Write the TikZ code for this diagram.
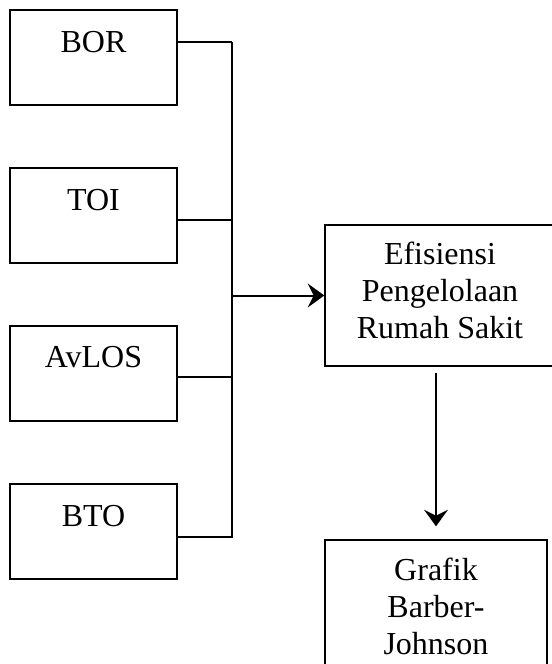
\documentclass[tikz,border=0pt]{standalone}
\usepackage{fontspec}
\setmainfont{Liberation Serif}
\usetikzlibrary{arrows.meta,calc}

\begin{document}
\begin{tikzpicture}[x=0.75pt,y=0.75pt,yscale=-1,xscale=1,
  box/.style={draw,line width=1pt,inner sep=0pt,minimum width=125.25pt,minimum height=71.25pt},
  link/.style={line width=1pt},
  arr/.style={line width=1.5pt,-{Stealth[length=12.5pt,width=18pt,inset=4.5pt]}},
  txt/.style={font=\fontsize{24}{27.75}\selectfont,align=center,anchor=base,inner sep=0pt}]
\useasboundingbox (0,0) rectangle (551,664);

%Shape: Rectangle [id:bor] 
\node [box] (bor) at (93.5,57.5) {};
%Shape: Rectangle [id:toi] 
\node [box] (toi) at (93.5,215.5) {};
%Shape: Rectangle [id:avlos] 
\node [box] (avlos) at (93.5,373.5) {};
%Shape: Rectangle [id:bto] 
\node [box] (bto) at (93.5,531.5) {};
%Shape: Rectangle [id:eff] 
\node [box,minimum width=172.5pt,minimum height=105.75pt] (eff) at (440,295.5) {};
%Shape: Rectangle [id:grafik] 
\node [box,minimum width=166.5pt,minimum height=127.5pt] (grafik) at (436,625) {};

%Straight Lines [id:bus] 
\coordinate (bustop) at (232,42);
\draw [link] ($(bor.east)+(0,-15.5)$) -- (bustop);
\draw [link] ($(toi.east)+(0,4.5)$) -| (bustop);
\draw [link] ($(avlos.east)+(0,3.5)$) -| (bustop);
\draw [link] ($(bto.east)+(0,5.5)$) -| (bustop);
%Straight Lines [id:in] 
\draw [arr] (bustop |- eff.west) -- (eff.west);
%Straight Lines [id:out] 
\draw [arr,shorten <=4.5pt,shorten >=9.75pt] (eff.south -| grafik.north) -- (grafik.north);

% Text Node
\node [txt] (bortxt) at (93.5,52) {BOR};
% Text Node
\node [txt] (toitxt) at (93.5,210) {TOI};
% Text Node
\node [txt] (avlostxt) at (93.5,367) {AvLOS};
% Text Node
\node [txt] (btotxt) at (93.5,526) {BTO};
% Text Node
\node [txt] (efftxt) at (440,338) {Efisiensi\\Pengelolaan\\Rumah Sakit};
% Text Node
\node [txt] (grafiktxt) at (436,654) {Grafik\\Barber-\\Johnson};

\end{tikzpicture}
\end{document}
